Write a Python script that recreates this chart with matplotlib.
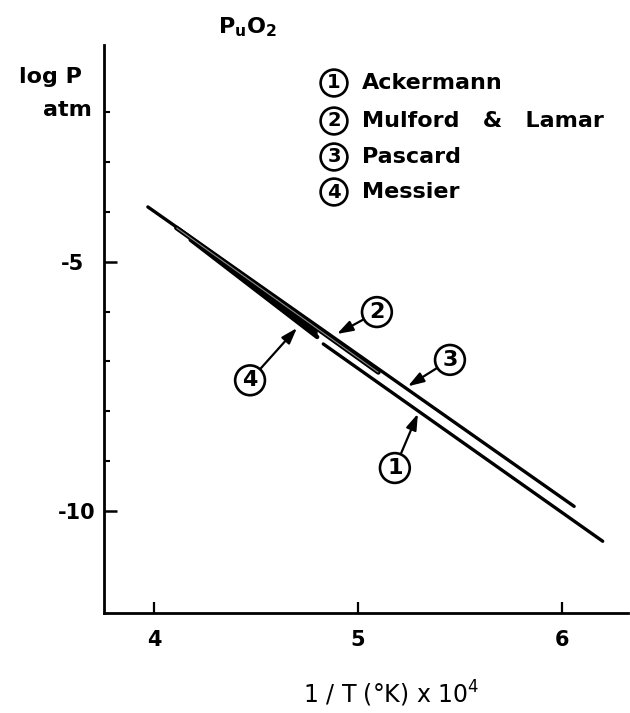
import matplotlib
matplotlib.use("Agg")
import matplotlib.pyplot as plt
import matplotlib.transforms as mtransforms
import numpy as np

# ---- data ----
series_names = ["Ackermann", "Mulford   &   Lamar", "Pascard", "Messier"]
series_ids = ["1", "2", "3", "4"]
# each line: 1/T*1e4 endpoints and log P (atm) endpoints
ack_x = [4.83, 6.20]
ack_y = [-6.65, -10.61]
mul_x = [4.11, 5.10]
mul_y = [-4.32, -7.22]
pas_x = [3.97, 6.06]
pas_y = [-3.90, -9.91]
mes_x = [4.18, 4.80]
mes_y = [-4.56, -6.51]

x_ticks = [4, 5, 6]
x_ticklabels = ["4", "5", "6"]
y_major = [-5, -10]
y_major_labels = ["-5", "-10"]
y_minor = [-2, -3, -4, -6, -7, -8, -9]

W, H = 630, 713
fig = plt.figure(figsize=(W / 100, H / 100), dpi=100)
ax = fig.add_axes([104 / W, (H - 613) / H, (628 - 104) / W, (613 - 45) / H])
ax.set_xlim(3.755, 6.324)
ax.set_ylim(-12.05, -0.65)

FONT = "DejaVu Sans"
k = "black"
# Messier band: filled between Pascard line and Messier line
xs = np.array(mes_x)
pas_on_mes = np.interp(xs, pas_x, pas_y)
ax.fill_between(xs, pas_on_mes, mes_y, color=k, lw=0)
ax.plot(mes_x, mes_y, color=k, lw=3.2, solid_capstyle="round")
ax.plot(ack_x, ack_y, color=k, lw=2.4, solid_capstyle="round")
ax.plot(pas_x, pas_y, color=k, lw=2.4, solid_capstyle="round")
ax.plot(mul_x, mul_y, color=k, lw=3.4, solid_capstyle="round")
ax.plot(mul_x, mul_y, color="#8a8a8a", lw=0.8, solid_capstyle="butt")

for s in ["top", "right"]:
    ax.spines[s].set_visible(False)
for s in ["left", "bottom"]:
    ax.spines[s].set_linewidth(2.0)

ax.set_xticks(x_ticks)
ax.set_xticklabels(x_ticklabels, fontsize=15, fontweight="bold", family=FONT)
ax.tick_params(axis="x", direction="in", length=8, width=1.6, pad=12)
ax.set_yticks(y_major)
ax.set_yticklabels(y_major_labels, fontsize=15, fontweight="bold", family=FONT)
ax.set_yticks(y_minor, minor=True)
ax.tick_params(axis="y", which="major", direction="in", length=9, width=1.8, pad=6)
ax.tick_params(axis="y", which="minor", direction="in", length=4.5, width=1.5)
# hand-lettered "-5" sits further left than "-10"
lab5 = ax.get_yticklabels()[0]
lab5.set_transform(lab5.get_transform() +
                   mtransforms.ScaledTranslation(-12 / 100, 0, fig.dpi_scale_trans))

def ft(px, py, s, **kw):
    fig.text(px / W, 1 - py / H, s, **kw)

ft(247, 27, r"P$_\mathregular{u}$O$_\mathregular{2}$", fontsize=16, fontweight="bold",
   ha="center", va="center", family=FONT)
ft(82, 77, "log P", fontsize=16, fontweight="bold", ha="right", va="center", family=FONT)
ft(92, 110, "atm", fontsize=16, fontweight="bold", ha="right", va="center", family=FONT)
ft(391, 694, r"1 / T (°K) x 10$^\mathregular{4}$", fontsize=17, ha="center", va="center", family=FONT)

# legend
leg_y = [83, 121, 157, 192]
for sid, name, py in zip(series_ids, series_names, leg_y):
    ft(334, py, sid, fontsize=14, fontweight="bold", ha="center", va="center", family=FONT,
       bbox=dict(boxstyle="circle,pad=0.2", fc="white", ec="black", lw=1.9))
    ft(362, py, name, fontsize=16, fontweight="bold", ha="left", va="center", family=FONT)

# callouts (label position, arrow tip) in data units
callouts = [("2", (5.093, -6.01), (4.897, -6.45)),
            ("3", (5.451, -6.97), (5.245, -7.50)),
            ("1", (5.181, -9.14), (5.294, -8.05)),
            ("4", (4.471, -7.38), (4.701, -6.33))]
for sid, txy, tip in callouts:
    ax.annotate(sid, xy=tip, xytext=txy, fontsize=16, fontweight="bold", ha="center",
                va="center", family=FONT,
                bbox=dict(boxstyle="circle,pad=0.22", fc="white", ec="black", lw=1.9),
                arrowprops=dict(arrowstyle="-|>,head_length=0.6,head_width=0.2",
                                color="black", lw=1.6, shrinkA=0, shrinkB=0))

fig.savefig("out.png", dpi=100)
